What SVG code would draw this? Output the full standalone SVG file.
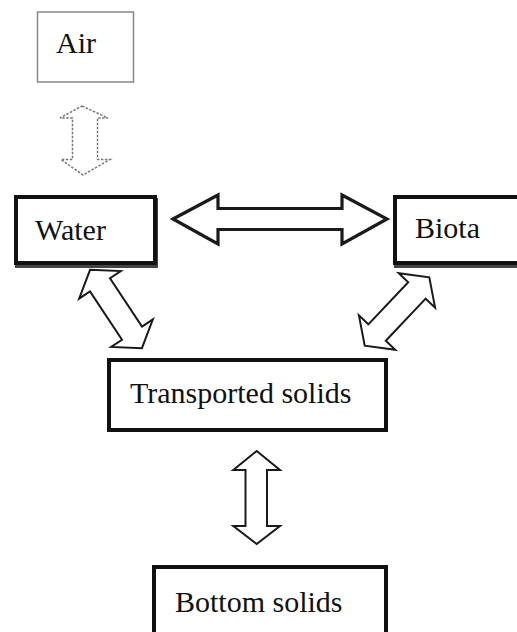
<svg xmlns="http://www.w3.org/2000/svg" width="517" height="632" viewBox="0 0 517 632">
<style>
.box{fill:#fff;stroke:#111;stroke-width:4}
.shadow{fill:none;stroke:#444;stroke-width:4}
.arr{fill:#fff;stroke:#1a1a1a;stroke-width:2;stroke-linejoin:miter}
</style>
<defs>
<polygon id="v2" points="0,-47 25,-29 12,-29 12,29 25,29 0,47 -25,29 -12,29 -12,-29 -25,-29"/>
</defs>
<rect width="517" height="632" fill="#fff"/>
<g id="connectors">
<polygon id="air-water" points="82,106 108,118 97.5,118 97.5,159.5 110,159.5 83,175 61,159.5 72.5,159.5 72.5,118 60,118" fill="#fff" stroke="#777" stroke-width="1.5" stroke-dasharray="2.5 1.5"/>
<polygon id="water-biota" class="arr" points="173,219 218,195 218,208.5 342,208.5 342,195 387,219 342,244 342,229.5 218,229.5 218,244" style="stroke-width:3.2"/>
<use id="water-transported" href="#v2" class="arr" transform="translate(116,309) rotate(-33.5)"/>
<use id="biota-transported" href="#v2" class="arr" transform="translate(397,311.5) rotate(43.4)"/>
<polygon id="transported-bottom" class="arr" points="256.7,451 280,470 267,470 267,526 280,526 256.7,544 233.3,526 245.5,526 245.5,470 233.3,470"/>
</g>
<g font-family="Liberation Serif, Times New Roman, DejaVu Serif, serif" font-size="30" fill="#111">
<g id="air">
<rect x="37.5" y="12" width="96" height="70" fill="#fff" stroke="#888" stroke-width="1.5"/>
<text x="56" y="53">Air</text>
</g>
<g id="water">
<rect class="shadow" x="17" y="200" width="139" height="66"/>
<rect class="box" x="16" y="197" width="139" height="66"/>
<text x="35" y="239.5">Water</text>
</g>
<g id="biota">
<rect class="shadow" x="396" y="200" width="140" height="66"/>
<rect class="box" x="395" y="197" width="140" height="66"/>
<text x="415" y="238">Biota</text>
</g>
<g id="transported">
<rect class="box" x="109" y="360" width="277" height="70"/>
<text x="130" y="403">Transported solids</text>
</g>
<g id="bottom">
<rect class="box" x="154" y="567" width="232" height="80"/>
<text x="175" y="611.5">Bottom solids</text>
</g>
</g>
</svg>
